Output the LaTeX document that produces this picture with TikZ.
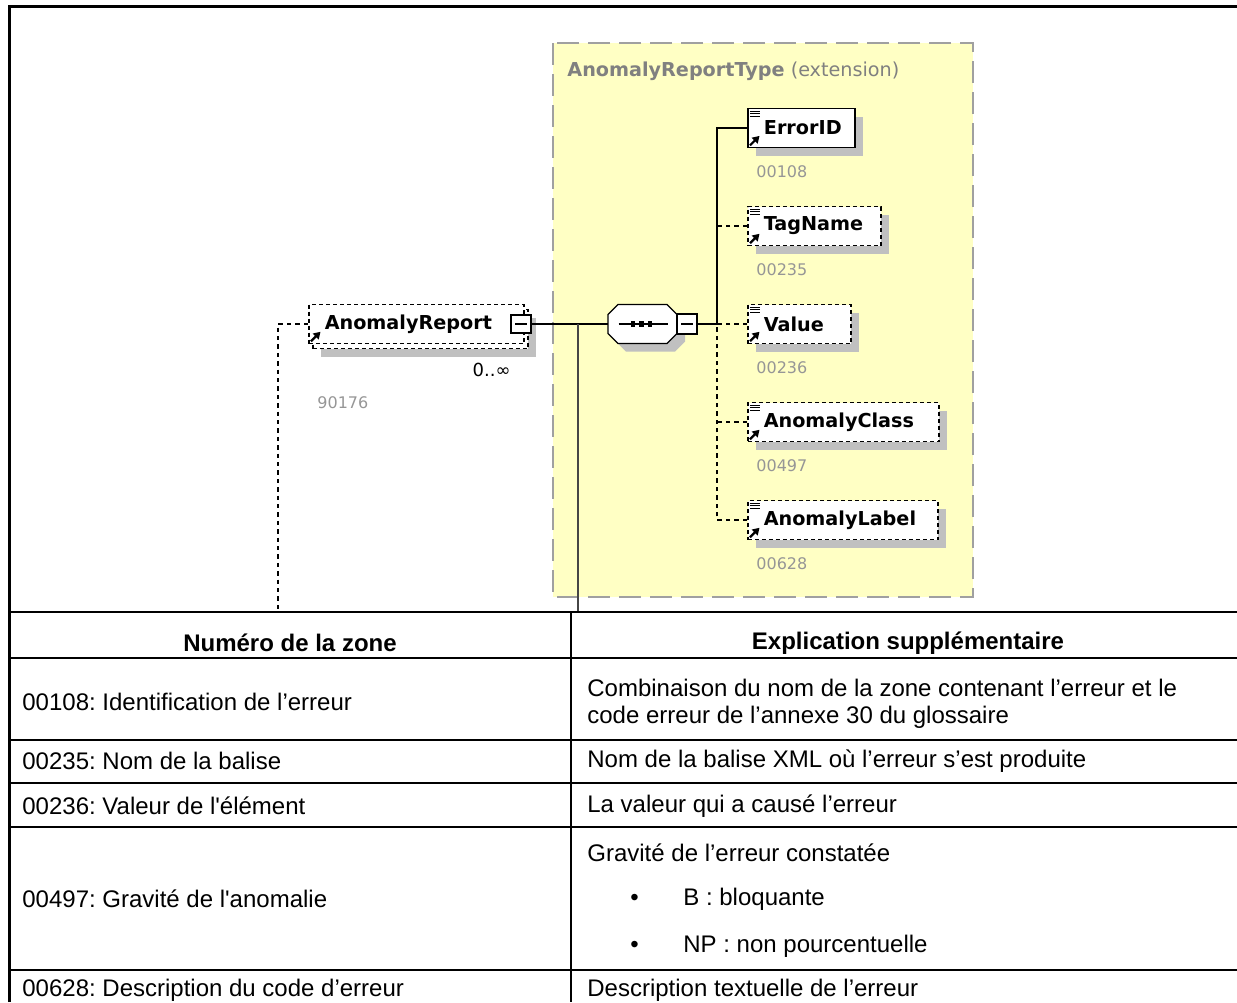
\documentclass[tikz,border=0pt]{standalone}
\usepackage{fontspec}
\setmainfont{Liberation Sans}
\newfontfamily\xsdfont{DejaVu Sans}
\usepackage{tikz}
\usetikzlibrary{positioning,shadows,arrows.meta}
\definecolor{typeFill}{RGB}{255,255,196}
\definecolor{typeEdge}{RGB}{160,160,160}
\definecolor{shadowGray}{RGB}{192,192,192}
\definecolor{titleGray}{RGB}{128,128,128}
\definecolor{idGray}{RGB}{150,150,150}
\definecolor{branchGray}{RGB}{70,70,70}
\frenchspacing

\begin{document}
\begin{tikzpicture}[
  x=0.5pt,
  y=-0.5pt,
  box/.style={
    draw=black,
    fill=white,
    font=\xsdfont\bfseries\fontsize{9.6}{11}\selectfont,
    minimum height=19.5pt,
    inner xsep=1pt,
    inner ysep=0pt,
    align=left,
    anchor=west
  },
  shadowed/.style={
    drop shadow={shadow xshift=4pt,shadow yshift=-4pt,fill=shadowGray,opacity=1}
  },
  element/.style={box, shadowed, line width=0.9pt},
  optional/.style={box, shadowed, line width=0.75pt, dash pattern=on 2pt off 1.5pt},
  minus box/.style={
    draw=black,
    fill=white,
    line width=0.6pt,
    minimum width=10pt,
    minimum height=10pt,
    inner sep=0pt,
    path picture={\draw[line width=0.6pt] ([xshift=2pt]path picture bounding box.west) -- ([xshift=-2pt]path picture bounding box.east);}
  },
  sequence/.style={
    minimum width=34.5pt,
    minimum height=19.5pt,
    inner sep=0pt
  },
  idnum/.style={
    font=\xsdfont\fontsize{8}{9}\selectfont,
    text=idGray,
    inner sep=0pt
  },
  link/.style={line width=0.6pt},
  optlink/.style={line width=0.7pt, dash pattern=on 2.2pt off 2pt},
  typebox/.style={fill=typeFill, draw=typeEdge, line width=1pt, dash pattern=on 11pt off 4.5pt},
  rule/.style={line width=1pt},
  frame/.style={line width=1.5pt},
  cell/.style={anchor=west, inner sep=0pt, font=\fontsize{12}{13.8}\selectfont, align=left},
  head/.style={inner sep=0pt, font=\bfseries\fontsize{12}{13.8}\selectfont},
  octagon/.pic={
    \path[pic actions] (-24.5,-19.5) -- (24.5,-19.5) -- (34.5,-9.5) -- (34.5,9.5)
      -- (24.5,19.5) -- (-24.5,19.5) -- (-34.5,9.5) -- (-34.5,-9.5) -- cycle;
  },
  lines mark/.pic={
    \foreach \k in {0,1,2}
      \draw[line width=0.5pt] (3,3.5+2.6*\k) -- (12.5,3.5+2.6*\k);
  },
  ref arrow/.pic={
    \draw[line width=1.1pt,-{Triangle[length=3.4pt,width=4pt]}] (3,-3) -- (12.5,-12.5);
  }
]
\useasboundingbox (0,0) rectangle (1237,1002);

% type area
\draw[typebox] (553,43) rectangle (973,597);
\node[anchor=west, inner sep=0pt, text=titleGray, font=\xsdfont\fontsize{9.6}{11}\selectfont]
  (typetitle) at (567,71) {\textbf{AnomalyReportType} (extension)};

% repeated element
\node[optional, text width=105.5pt] (arepback) at (312,329) {};
\node[box, line width=0.75pt, dash pattern=on 2pt off 1.5pt, text width=105.5pt]
  (arep) at (308,324) {\hspace*{7pt}AnomalyReport};
\pic at (arep.south west) {ref arrow};
\node[minus box, minimum height=9pt] (arepm) at (521,324) {};
\node[anchor=east, inner sep=0pt, font=\xsdfont\fontsize{9}{10}\selectfont] (arepocc) at (511,370) {0..∞};
\node[idnum, anchor=west] (arepid) at (317,403) {90176};

% sequence
\node[sequence] (seq) at (642.5,324) {};
\pic[fill=shadowGray] at ([xshift=4pt,yshift=-4pt]seq.center) {octagon};
\pic[draw=black, fill=white, line width=0.6pt] at (seq.center) {octagon};
\draw[line width=0.6pt] ([xshift=-12pt]seq.center) -- ([xshift=12.5pt]seq.center);
\foreach \d in {-1,0,1}
  \fill ([xshift=\d*4.25pt-0.5pt]seq.center) +(-2.3,-2.6) rectangle +(2.3,2.6);
\node[minus box] (seqm) at (687,324) {};

% children
\node[element, text width=51.5pt] (errid) at (747,128) {\hspace*{7pt}ErrorID};
\node[optional, text width=64.5pt] (tagname) at (747,226) {\hspace*{7pt}TagName};
\node[optional, text width=49.5pt] (value) at (747,324) {\hspace*{7pt}Value};
\node[optional, text width=93.5pt] (aclass) at (747,422) {\hspace*{7pt}AnomalyClass};
\node[optional, text width=93pt] (alabel) at (747,520) {\hspace*{7pt}AnomalyLabel};
\foreach \n in {errid,tagname,value,aclass,alabel} {
  \pic at (\n.north west) {lines mark};
  \pic at (\n.south west) {ref arrow};
}
\node[idnum, below right=8.5pt and 4.5pt of errid.south west] (errid-id) {00108};
\node[idnum, below right=8.5pt and 4.5pt of tagname.south west] (tagname-id) {00235};
\node[idnum, below right=8.5pt and 4.5pt of value.south west] (value-id) {00236};
\node[idnum, below right=8.5pt and 4.5pt of aclass.south west] (aclass-id) {00497};
\node[idnum, below right=8.5pt and 4.5pt of alabel.south west] (alabel-id) {00628};

% connectors
\coordinate (bus) at (717,324);
\coordinate (leftfoot) at (278,612);
\coordinate (branchfoot) at (578,612);
\draw[optlink] (arep.west) -| (leftfoot);
\draw[link] (arepm.east) -- (seq.west);
\draw[link, draw=branchGray] (branchfoot |- arepm.east) -- (branchfoot);
\draw[link] (seqm.east) -- (bus);
\draw[link] (errid.west) -| (bus);
\draw[optlink] (tagname.west) -- (tagname.west -| bus);
\draw[optlink] (value.west) -- (bus);
\draw[optlink] (aclass.west) -- (aclass.west -| bus);
\draw[optlink] (alabel.west) -| (bus);

% table
\draw[frame] (9,1002) -- (9,6) -- (1237,6);
\foreach \y in {612,658,740,783,827,970}
  \draw[rule] (9,\y) -- (1237,\y);
\draw[rule] (571,612) -- (571,1002);

\node[head] (hzone) at (290,643) {Numéro de la zone};
\node[head] (hexpl) at (908,643) {Explication supplémentaire};

\node[cell] (z108) at (22,702) {00108: Identification de l’erreur};
\node[cell] (e108) at (587,703.5) {Combinaison du nom de la zone contenant l’erreur et le\\[-0.4pt]code erreur de l’annexe 30 du glossaire};
\node[cell] (z235) at (22,761) {00235: Nom de la balise};
\node[cell] (e235) at (587,761) {Nom de la balise XML où l’erreur s’est produite};
\node[cell] (z236) at (22,806) {00236: Valeur de l\textquotesingle élément};
\node[cell] (e236) at (587,806) {La valeur qui a causé l’erreur};
\node[cell] (z497) at (22,899) {00497: Gravité de l\textquotesingle anomalie};
\node[cell] (e497) at (587,853) {Gravité de l’erreur constatée};
\node[cell] (e497b) at (630,899) {\makebox[26.5pt][l]{•}B : bloquante};
\node[cell] (e497np) at (630,946) {\makebox[26.5pt][l]{•}NP : non pourcentuelle};
\node[cell] (z628) at (22,990) {00628: Description du code d’erreur};
\node[cell] (e628) at (587,990) {Description textuelle de l’erreur};
\end{tikzpicture}
\end{document}
